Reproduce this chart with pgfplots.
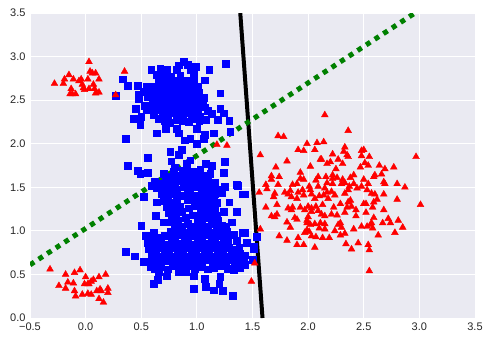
\documentclass[border=0pt]{standalone}
\usepackage{pgfplots}
\pgfplotsset{compat=1.18}
\usepackage{fontspec}
\setmainfont{Liberation Sans}
\definecolor{panel}{HTML}{EAEAF2}
\definecolor{ticktext}{HTML}{262626}
\definecolor{dgreen}{HTML}{008000}

\begin{document}
\begin{tikzpicture}
\path[use as bounding box] (-30pt,-25pt) rectangle (459pt,318pt);
\begin{axis}[
  at={(0pt,0pt)}, anchor=south west,
  scale only axis,
  width=445pt, height=305pt,
  xmin=-0.5, xmax=3.5, ymin=0, ymax=3.5,
  xtick={-0.5,0,0.5,1,1.5,2,2.5,3,3.5},
  xticklabels={−0.5,0.0,0.5,1.0,1.5,2.0,2.5,3.0,3.5},
  ytick={0,0.5,1,1.5,2,2.5,3,3.5},
  yticklabels={0.0,0.5,1.0,1.5,2.0,2.5,3.0,3.5},
  axis background/.style={fill=panel},
  axis line style={draw=none},
  major tick length=0pt,
  grid=major,
  grid style={white,line width=1pt},
  tick label style={font=\fontsize{11}{13}\selectfont,text=ticktext},
  xticklabel style={yshift=-1pt},
  yticklabel style={xshift=-1pt},
]
% class 1, blue squares
\addplot[only marks,blue,mark=square*,mark size=3.4pt,mark options={fill=blue}] coordinates {
 % upper cloud, outer points
 (0.27,2.55) (0.33,2.74) (0.38,2.67) (0.47,2.67) (0.48,2.56) (0.48,2.52) (0.45,2.40) (0.43,2.29)
 (0.49,2.22) (0.50,2.31) (0.53,2.44) (0.55,2.39) (0.36,2.06) (0.64,2.12) (0.72,2.17) (0.59,2.85)
 (0.67,2.86) (0.73,2.85) (0.64,2.79) (0.82,2.85) (0.84,2.90) (0.88,2.94) (0.92,2.91) (0.94,2.85)
 (0.99,2.88) (1.11,2.85) (1.26,2.92) (0.97,2.79) (0.97,2.74) (1.07,2.73) (1.02,2.59) (1.21,2.58)
 (1.06,2.53) (1.07,2.42) (1.10,2.38) (1.13,2.34) (1.21,2.40) (1.24,2.35) (1.19,2.28) (1.29,2.26)
 (1.02,2.26) (0.93,2.25) (1.00,2.17) (0.82,2.17) (0.84,2.12) (1.15,2.12) (1.07,2.10) (1.06,2.06)
 (0.94,2.06) (0.89,2.04) (1.00,2.00) (1.30,2.14) (0.76,1.91) (0.86,1.93) (0.84,1.87) (0.56,1.84)
 (0.38,1.75) (0.77,1.80) (0.94,1.81) (0.91,1.77) (1.08,1.77) (1.13,1.75) (1.25,1.79) (0.47,1.69)
 (0.56,1.67) (0.80,1.73) (0.70,1.66) (0.79,1.68) (0.94,1.68) (0.98,1.68) (1.12,1.66) (1.24,1.67)
 % upper cloud, dense part
 (0.66,2.29) (0.71,2.26) (0.76,2.24) (0.82,2.28) (0.87,2.26) (0.96,2.29) (0.61,2.33) (0.69,2.34)
 (0.74,2.32) (0.79,2.35) (0.85,2.33) (0.90,2.36) (0.95,2.33) (1.01,2.35) (0.58,2.41) (0.64,2.39)
 (0.70,2.42) (0.75,2.40) (0.81,2.41) (0.86,2.39) (0.92,2.42) (0.97,2.40) (1.02,2.43) (0.60,2.47)
 (0.66,2.46) (0.72,2.48) (0.78,2.46) (0.83,2.47) (0.88,2.45) (0.94,2.48) (0.99,2.46) (0.56,2.54)
 (0.63,2.52) (0.68,2.54) (0.74,2.53) (0.80,2.55) (0.85,2.52) (0.91,2.54) (0.96,2.52) (0.52,2.60)
 (0.59,2.59) (0.65,2.61) (0.71,2.58) (0.76,2.60) (0.82,2.59) (0.87,2.61) (0.93,2.58) (0.98,2.60)
 (0.55,2.65) (0.61,2.66) (0.68,2.67) (0.73,2.65) (0.79,2.66) (0.84,2.64) (0.90,2.67) (0.95,2.65)
 (0.66,2.72) (0.71,2.71) (0.75,2.74) (0.80,2.72) (0.86,2.70) (0.91,2.72) (0.68,2.78) (0.73,2.79)
 (0.77,2.77) (0.69,2.84) (0.85,2.78) (1.03,2.31) (1.05,2.48) (1.00,2.53) (1.01,2.66) (1.08,2.28)
 % lower cloud, outer points
 (0.49,1.66) (0.59,1.52) (0.52,1.39) (0.64,1.33) (0.63,1.17) (0.50,1.06) (0.70,1.10) (0.74,1.10)
 (0.61,0.98) (0.54,0.94) (0.36,0.76) (0.44,0.71) (0.52,0.65) (0.56,0.65) (0.58,0.59) (0.66,0.53)
 (0.65,0.44) (0.61,0.39) (0.73,0.48) (0.84,0.53) (0.90,0.53) (0.97,0.48) (0.97,0.34) (1.07,0.45)
 (1.08,0.36) (1.15,0.32) (1.20,0.39) (1.23,0.31) (1.32,0.26) (1.21,0.47) (1.33,0.55) (1.39,0.58)
 (1.42,0.64) (1.41,0.98) (1.36,1.22) (1.31,1.10) (1.29,1.33) (1.25,1.51) (1.36,1.53) (1.37,1.52)
 (1.41,1.42) (1.22,1.44) (1.18,1.32) (1.24,1.22) (1.18,1.18) (1.27,0.99) (1.31,0.95) (1.36,0.89)
 (1.38,0.81) (1.39,0.74) (1.43,1.42) (1.54,0.93) (1.43,0.98) (1.45,0.86) (1.51,0.79) (1.51,0.82)
 (1.43,0.72) (1.50,0.67) (1.43,0.61)
 % lower cloud, dense band
 (0.62,0.57) (0.68,0.59) (0.74,0.56) (0.80,0.60) (0.86,0.58) (0.92,0.60) (0.98,0.57) (1.04,0.59)
 (1.10,0.56) (1.15,0.58) (1.22,0.60) (1.28,0.57) (1.34,0.62) (0.60,0.65) (0.66,0.64) (0.72,0.66)
 (0.78,0.63) (0.84,0.67) (0.90,0.64) (0.96,0.66) (1.02,0.63) (1.08,0.67) (1.14,0.64) (1.20,0.66)
 (1.26,0.63) (1.32,0.67) (1.38,0.65) (0.59,0.72) (0.65,0.71) (0.71,0.73) (0.77,0.70) (0.83,0.74)
 (0.89,0.71) (0.95,0.73) (1.01,0.70) (1.07,0.74) (1.13,0.71) (1.19,0.73) (1.25,0.70) (1.31,0.74)
 (1.36,0.72) (0.57,0.79) (0.63,0.78) (0.69,0.80) (0.75,0.77) (0.81,0.81) (0.87,0.78) (0.93,0.80)
 (0.99,0.77) (1.05,0.81) (1.11,0.78) (1.17,0.80) (1.23,0.77) (1.29,0.81) (1.34,0.79) (0.56,0.86)
 (0.62,0.85) (0.68,0.87) (0.74,0.84) (0.80,0.88) (0.86,0.85) (0.92,0.87) (0.98,0.84) (1.04,0.88)
 (1.10,0.85) (1.16,0.87) (1.22,0.84) (1.28,0.88) (0.58,0.93) (0.65,0.92) (0.71,0.94) (0.77,0.91)
 (0.83,0.95) (0.89,0.92) (0.95,0.94) (1.01,0.91) (1.07,0.95) (1.13,0.92) (1.19,0.94) (1.24,0.91)
 (0.76,0.99) (0.82,1.01) (0.88,0.98) (0.94,1.02) (1.00,0.99) (1.06,1.01) (1.12,0.98) (1.18,1.01)
 (0.80,1.07) (0.86,1.05) (0.92,1.08) (0.98,1.05) (1.04,1.08) (1.10,1.05) (1.16,1.08) (1.22,1.06)
 (1.26,1.05) (1.33,0.96) (1.21,1.00)
 % lower cloud, column
 (0.77,1.14) (0.83,1.12) (0.90,1.15) (1.01,1.13) (1.07,1.15) (1.13,1.12) (1.19,1.12) (0.75,1.21)
 (0.81,1.19) (0.86,1.22) (0.96,1.18) (1.03,1.21) (1.09,1.19) (1.15,1.21) (0.73,1.28) (0.79,1.26)
 (0.85,1.28) (0.93,1.26) (0.99,1.29) (1.05,1.26) (1.11,1.28) (1.16,1.26) (0.70,1.35) (0.76,1.33)
 (0.82,1.35) (0.92,1.36) (0.98,1.33) (1.04,1.35) (1.10,1.33) (1.15,1.36) (0.68,1.42) (0.74,1.40)
 (0.80,1.42) (0.86,1.40) (0.92,1.43) (0.98,1.41) (1.04,1.43) (1.10,1.40) (1.16,1.42) (0.64,1.49)
 (0.70,1.47) (0.76,1.49) (0.82,1.47) (0.88,1.50) (0.94,1.48) (1.00,1.50) (1.06,1.47) (1.12,1.49)
 (0.62,1.56) (0.68,1.54) (0.74,1.56) (0.80,1.54) (0.86,1.57) (0.92,1.55) (0.98,1.57) (1.04,1.54)
 (1.10,1.56) (1.16,1.55) (0.72,1.62) (0.78,1.61) (0.84,1.63) (0.90,1.61) (0.96,1.63) (1.02,1.61)
 (1.08,1.63) (0.87,1.69) (1.03,1.70) (1.19,1.47)
};
% class 2, red triangles
\addplot[only marks,red,mark=triangle*,mark size=3.9pt,mark options={fill=red}] coordinates {
 % top left
 (-0.28,2.69) (-0.20,2.69) (-0.19,2.74) (-0.15,2.79) (-0.11,2.74) (-0.06,2.72) (-0.04,2.74) (-0.03,2.68)
 (-0.02,2.64) (-0.01,2.62) (0.02,2.74) (0.03,2.94) (0.04,2.83) (0.06,2.81) (0.09,2.81) (0.12,2.74)
 (0.07,2.68) (0.08,2.63) (0.03,2.63) (0.12,2.59) (0.09,2.58) (-0.13,2.63) (-0.14,2.57) (-0.12,2.57)
 (-0.09,2.57) (0.27,2.56) (0.35,2.83) (1.18,1.99) (1.27,1.98)
 % bottom left
 (-0.32,0.56) (-0.18,0.50) (-0.10,0.52) (-0.05,0.55) (0.18,0.50) (0.12,0.47) (0.00,0.47) (0.07,0.44)
 (0.05,0.42) (0.02,0.39) (-0.01,0.39) (0.03,0.39) (-0.16,0.41) (-0.11,0.40) (-0.24,0.37) (-0.18,0.34)
 (-0.10,0.31) (-0.09,0.25) (-0.03,0.27) (0.02,0.28) (0.05,0.27) (0.10,0.31) (0.13,0.33) (0.14,0.31)
 (0.20,0.34) (0.20,0.29) (0.12,0.22) (0.16,0.18)
 % right
 (2.15,2.33) (2.36,2.15) (1.73,2.09) (1.78,2.08) (1.99,2.00) (2.08,2.01) (2.14,2.02) (1.91,1.93)
 (1.96,1.92) (2.06,1.93) (2.33,1.96) (2.32,1.91) (2.48,1.92) (2.50,1.93) (1.57,1.87) (1.81,1.80)
 (2.22,1.88) (2.35,1.87) (2.36,1.85) (2.48,1.86) (2.55,1.85) (2.97,1.85) (2.11,1.82) (2.12,1.82)
 (2.27,1.82) (2.20,1.79) (2.17,1.77) (2.31,1.77) (2.51,1.78) (2.54,1.75) (1.71,1.73) (2.02,1.74)
 (2.47,1.73) (2.64,1.75) (2.69,1.71) (2.77,1.73) (2.25,1.71) (1.93,1.67) (2.66,1.65) (2.60,1.64)
 (2.59,1.62) (2.41,1.64) (2.38,1.61) (1.67,1.63) (1.67,1.59) (1.74,1.62) (1.93,1.60) (1.96,1.59)
 (2.09,1.62) (2.07,1.58) (2.16,1.62) (2.22,1.64) (2.22,1.60) (2.26,1.61) (2.31,1.59) (2.50,1.59)
 (2.68,1.56) (2.69,1.54) (2.80,1.54) (2.87,1.50) (1.62,1.53) (1.63,1.48) (1.73,1.53) (1.86,1.53)
 (1.90,1.54) (2.01,1.51) (2.09,1.51) (2.17,1.55) (2.22,1.54) (2.30,1.54) (2.33,1.55) (2.41,1.54)
 (2.37,1.51) (2.44,1.49) (2.48,1.51) (2.54,1.54) (2.53,1.47) (1.56,1.44) (1.70,1.43) (1.69,1.39)
 (1.79,1.44) (1.82,1.42) (1.85,1.39) (1.84,1.46) (1.90,1.37) (1.91,1.44) (1.95,1.47) (1.96,1.41)
 (2.02,1.47) (2.03,1.42) (2.06,1.37) (2.10,1.40) (2.15,1.49) (2.17,1.44) (2.14,1.41) (2.18,1.37)
 (2.21,1.45) (2.24,1.41) (2.33,1.43) (2.36,1.47) (2.38,1.35) (2.36,1.33) (2.57,1.43) (2.60,1.42)
 (2.68,1.42) (2.62,1.36) (2.80,1.36) (2.59,1.33) (2.52,1.31) (2.50,1.31) (2.58,1.27) (2.68,1.24)
 (3.01,1.30) (1.62,1.27) (1.72,1.30) (1.82,1.26) (1.86,1.27) (1.85,1.24) (1.93,1.27) (1.97,1.24)
 (2.00,1.28) (2.03,1.26) (2.07,1.28) (2.13,1.30) (2.09,1.23) (2.03,1.22) (2.23,1.27) (2.29,1.31)
 (2.35,1.27) (2.39,1.28) (2.43,1.24) (2.52,1.21) (2.33,1.21) (2.21,1.19) (1.67,1.17) (1.72,1.19)
 (1.70,1.16) (1.88,1.15) (1.90,1.13) (1.81,1.10) (1.84,1.04) (2.00,1.16) (1.99,1.12) (2.12,1.19)
 (2.15,1.17) (2.26,1.18) (2.43,1.17) (2.59,1.15) (2.72,1.14) (2.67,1.09) (2.74,1.09) (2.81,1.12)
 (2.85,1.04) (2.78,0.98) (2.57,1.09) (2.56,1.07) (2.58,1.03) (2.53,1.05) (2.48,1.05) (2.41,1.02)
 (2.29,1.09) (2.27,1.07) (2.30,1.04) (2.24,1.00) (2.15,1.08) (2.11,1.09) (2.06,1.08) (2.02,1.07)
 (1.99,1.09) (2.15,1.02) (2.10,1.03) (1.99,1.01) (1.97,0.98) (2.01,0.99) (2.33,0.97) (2.29,0.95)
 (1.57,1.02) (1.74,0.94) (1.81,0.89) (1.91,0.92) (2.03,0.94) (2.07,0.93) (2.13,0.92) (2.19,0.92)
 (2.63,0.95) (1.90,0.84) (1.96,0.84) (2.06,0.81) (2.34,0.85) (2.45,0.86) (2.54,0.84) (2.39,0.79)
 (2.55,0.78) (2.55,0.54) (1.49,0.42) (1.52,0.63)
};
% separating lines
\addplot[black,line width=4pt] coordinates {(1.39,3.5) (1.59,0)};
\addplot[dgreen,line width=5pt,dash pattern=on 5pt off 5.3pt] coordinates {(-0.5,0.61) (2.96,3.5)};
\end{axis}
\end{tikzpicture}
\end{document}
